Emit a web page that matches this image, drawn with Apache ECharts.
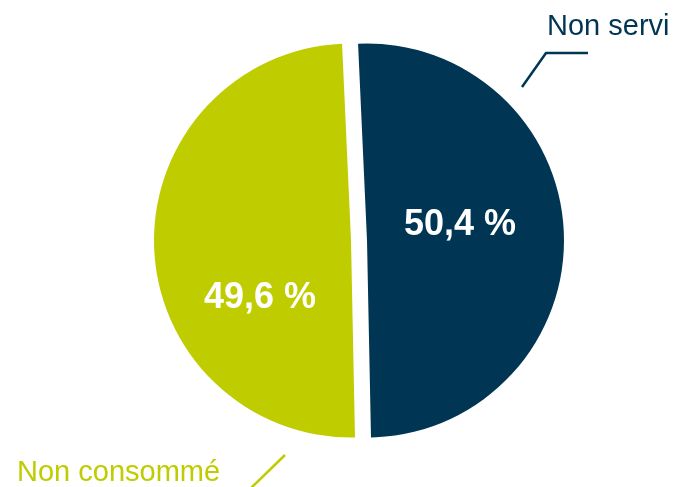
<!DOCTYPE html>
<html>
<head>
<meta charset="utf-8">
<script src="https://cdn.jsdelivr.net/npm/echarts@6/dist/echarts.min.js"></script>
<style>
html,body{margin:0;padding:0;background:#fff;}
#chart{width:674px;height:487px;}
</style>
</head>
<body>
<div id="chart"></div>
<script>
const categories = ['Non servi', 'Non consommé'];
const values = [50.4, 49.6];

const palette = ['#003653', '#bfcc00'];
const FONT = '"Liberation Sans", Arial, sans-serif';

const chart = echarts.init(document.getElementById('chart'), null, {renderer: 'canvas'});

// exploded pie: each slice drawn by its own series with a shifted center
const centers = [[367, 240.5], [351, 240.5]];
const innerPos = [[460, 225], [260, 298]];
const outerPos = [[547, 27], [17, 473]];
const outerLines = [
  [[522, 87], [546, 53], [588, 53]],
  [[285, 455], [250, 489], [200, 489]]
];

function sliceSeries(k, withFill) {
  return {
    type: 'pie',
    center: centers[k],
    radius: [0, 197],
    startAngle: 92.6,
    clockwise: true,
    avoidLabelOverlap: false,
    emphasis: {disabled: true, scale: false},
    animation: false,
    silent: true,
    data: categories.map((c, i) => ({
      name: c,
      value: values[i],
      itemStyle: {color: (i === k && withFill) ? palette[i] : 'rgba(0,0,0,0)'},
      label: {show: i === k},
      labelLine: {show: i === k && !withFill}
    })),
    label: withFill ? {
      position: 'inside',
      color: '#ffffff',
      fontFamily: FONT,
      fontWeight: 'bold',
      fontSize: 36,
      formatter: p => p.value.toFixed(1).replace('.', ',') + ' %'
    } : {
      position: 'outside',
      fontFamily: FONT,
      fontSize: 29,
      color: palette[k],
      formatter: '{b}'
    },
    labelLine: {lineStyle: {width: 2.5, color: palette[k]}},
    labelLayout: p => {
      if (p.dataIndex !== k) return {};
      if (withFill) {
        return {x: innerPos[k][0], y: innerPos[k][1], align: 'center', verticalAlign: 'middle'};
      }
      return {
        x: outerPos[k][0], y: outerPos[k][1], align: 'left', verticalAlign: 'middle',
        labelLinePoints: outerLines[k]
      };
    }
  };
}

chart.setOption({
  animation: false,
  series: [
    sliceSeries(0, true),
    sliceSeries(1, true),
    sliceSeries(0, false),
    sliceSeries(1, false)
  ]
});
</script>
</body>
</html>
